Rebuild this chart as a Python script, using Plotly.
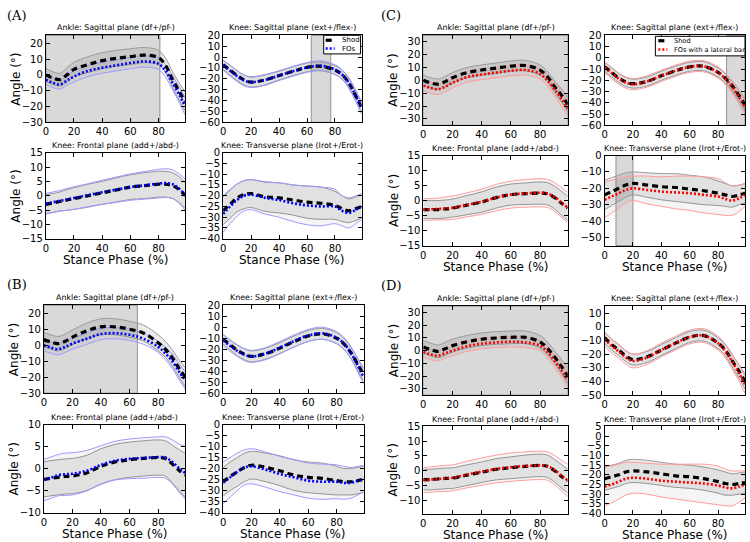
import plotly.graph_objects as go

W, H = 750, 542
X = [0, 5, 10, 15, 20, 30, 40, 50, 60, 70, 80, 85, 90, 95, 99]
XTICKS = [0, 20, 40, 60, 80]

TITLES = ["Ankle: Sagittal plane (df+/pf-)", "Knee: Sagittal plane (ext+/flex-)",
          "Knee: Frontal plane (add+/abd-)", "Knee: Transverse plane (Irot+/Erot-)"]
PANELS = ["A", "B", "C", "D"]
SHOD_NAME = "Shod"
FO_NAMES = {"A": "FOs", "C": "FOs with a lateral bar"}

# ---------------- Panel A ----------------
A_ank_shod = [0, -2, -3, 0, 3.5, 6.5, 9, 10.5, 11.5, 12.5, 11, 6, -3, -11, -17]
A_ank_shod_sd = [4, 4, 4, 4.5, 4.5, 5, 5, 5, 5, 4.8, 4.5, 4.5, 5, 5.5, 6]
A_ank_fo = [-3, -5, -6, -3.5, -1, 2.5, 4.5, 6, 7.5, 8.5, 7, 2.5, -5, -13, -20]
A_ank_fo_sd = [3, 3, 3, 3, 3.5, 3.5, 3.5, 3.5, 3.6, 3.6, 3.6, 4, 4.5, 5, 5.5]

A_ksag_shod = [-7, -12, -17, -21, -23, -21, -17, -13, -9.5, -8.5, -12, -16, -24, -36, -46]
A_ksag_shod_sd = [4, 4.5, 4.5, 4.5, 4.5, 4.5, 4, 4, 4, 4, 4, 4, 4, 4.5, 5]
A_ksag_fo = [-7.5, -12.5, -17.5, -21.5, -23, -21, -17, -13, -9.5, -8, -11.5, -16, -24, -36, -47]
A_ksag_fo_sd = [4.5, 5, 5, 5, 5, 5, 4.5, 4.5, 4.5, 4.5, 4.5, 4.5, 5, 5, 5.5]

A_kfr_shod = [-3, -2.5, -2, -1.5, -1, 0, 1, 2, 3, 3.5, 4, 4, 3.5, 2, 0]
A_kfr_shod_sd = [3.3, 3.3, 3.3, 3.6, 3.8, 4, 4, 4.2, 4.3, 4.5, 4.5, 4.5, 4.5, 4.5, 4.5]
A_kfr_fo = [-2.8, -2.3, -1.8, -1.3, -0.8, 0.2, 1.2, 2.1, 3, 3.6, 4.2, 4.4, 4, 2.3, 0.3]
A_kfr_fo_sd = [3.6, 3.6, 3.6, 3.8, 3.9, 4, 4.2, 4.4, 4.6, 4.8, 5, 5, 5, 5.2, 5.5]

A_ktr_shod = [-27, -24, -21, -19.5, -19, -20.5, -21, -22, -23, -23.5, -24.5, -26, -27, -26, -25]
A_ktr_shod_sd = [6.5, 6.5, 6.5, 6.5, 6.5, 6.8, 7, 7, 7.5, 7.5, 6.5, 6, 5.5, 5.5, 5.5]
A_ktr_fo = [-28.5, -25, -22, -20, -19.5, -21, -22, -23.5, -24.5, -25, -25, -27, -28, -26.5, -25]
A_ktr_fo_sd = [8.5, 8, 7.5, 7, 7, 7.5, 8, 8.5, 9, 9, 8, 7, 7, 6.5, 6]

# ---------------- Panel B ----------------
B_ank_shod = [3.5, 2, 1, 2.5, 5, 9, 11.5, 11.5, 10, 7.5, 1.5, -2.5, -8, -15, -20]
B_ank_shod_sd = [4.5, 4.5, 4.5, 4.5, 4.5, 4.8, 5, 5, 5, 5, 5, 5, 5, 5.5, 6]
B_ank_fo = [0, -1.5, -2.5, -1, 1, 4, 7, 7.5, 6.5, 4, -1, -5, -10, -17, -22]
B_ank_fo_sd = [3.5, 3.5, 3.5, 3.5, 3.5, 3.5, 3.5, 3.5, 3.5, 3.5, 3.5, 4, 4.5, 5, 5.5]

B_ksag_shod = [-11, -16, -21, -24.5, -26.5, -24, -19, -13, -8, -6, -10, -15, -23, -34, -43]
B_ksag_shod_sd = [4.5, 4.5, 5, 5, 5, 5, 5, 5, 5, 5, 5, 5, 5, 5.5, 6]
B_ksag_fo = [-12, -17, -21.5, -25, -26.5, -24, -18.5, -12.5, -7.5, -5.5, -9.5, -14.5, -23, -35, -45]
B_ksag_fo_sd = [5, 5, 5, 5.5, 5.5, 5.5, 5.5, 5.5, 5.5, 5.5, 5.5, 5.5, 5.5, 6, 6.5]

B_kfr_shod = [-2.5, -2.2, -2, -1.8, -1.7, -1, 0.5, 1.5, 2, 2.3, 2.5, 2.3, 1, -0.5, -1.5]
B_kfr_shod_sd = [4, 4, 4, 4, 4, 4, 4, 4, 4, 4, 4, 4, 4.3, 4.7, 5]
B_kfr_fo = [-2.6, -2.1, -1.5, -1.3, -1.2, -0.5, 0.8, 1.8, 2.2, 2.4, 2.6, 2.5, 1.5, 0, -1]
B_kfr_fo_sd = [4.7, 4.7, 4.7, 4.8, 4.8, 4.6, 4.4, 4.4, 4.5, 4.6, 4.6, 4.7, 5, 5.5, 6]

B_ktr_shod = [-26, -23.5, -21.5, -19.5, -18.5, -19.5, -21, -23, -24, -24.5, -25.5, -26, -26, -25.5, -25]
B_ktr_shod_sd = [6.5, 6.5, 6.5, 6.5, 6.3, 6.5, 6.8, 7, 7, 7, 6.5, 6, 6, 6, 6]
B_ktr_fo = [-26.5, -24, -21.5, -19.5, -19, -20.5, -22.5, -24, -25.5, -26, -26, -26.5, -26.5, -25.5, -24.5]
B_ktr_fo_sd = [9.5, 9, 8.5, 8, 8, 8, 8, 8, 8, 8, 7.7, 7.5, 7, 6.5, 6]

# ---------------- Panel C ----------------
C_ank_shod = [0, -2, -3, -1, 2, 6, 8, 9.5, 11, 11.5, 8, 3, -5, -12, -19]
C_ank_shod_sd = [4, 4, 4, 4, 4, 4, 4, 4, 4, 4, 4, 4, 4.5, 5, 5.5]
C_ank_fo = [-4, -6, -7, -5, -2, 2.5, 4.5, 6, 7.5, 8, 5, 0, -7, -15, -22]
C_ank_fo_sd = [4, 4, 4, 4, 4, 4, 4, 4, 4, 4, 4, 4.5, 5, 5.5, 6]

C_ksag_shod = [-8, -13, -18, -21.5, -23, -21, -16, -11.5, -8, -7.5, -13, -18, -25, -34, -42]
C_ksag_shod_sd = [4, 4, 4, 4, 4, 4, 4, 4, 4, 4, 4, 4, 4.5, 5, 5.5]
C_ksag_fo = [-8.5, -13.5, -18.5, -22, -23.5, -21, -16, -11.5, -8, -7.5, -13, -18.5, -26, -35.5, -44]
C_ksag_fo_sd = [5, 5, 5, 5, 5, 5, 5, 5, 5, 5, 5, 5, 5.5, 6, 6.5]

C_kfr_shod = [-3, -3, -3, -2.8, -2.5, -1.5, -0.5, 1, 2, 2.3, 2.5, 2.3, 1, -1, -2.5]
C_kfr_shod_sd = [3, 3, 3, 3, 3, 3.2, 3.4, 3.5, 3.5, 3.6, 3.7, 3.7, 3.8, 4, 4]
C_kfr_fo = [-3, -2.9, -2.8, -2.6, -2.4, -1.4, -0.4, 1, 2, 2.4, 2.6, 2.4, 1.2, -0.8, -2.3]
C_kfr_fo_sd = [3.6, 3.6, 3.6, 3.8, 3.9, 4, 4.2, 4.4, 4.5, 4.6, 4.7, 4.7, 4.8, 5, 5]

C_ktr_shod = [-24, -22, -20, -18, -17, -18, -19, -19.5, -20.5, -21.5, -23, -24, -25, -24, -23]
C_ktr_shod_sd = [9, 8.5, 8, 7.5, 7, 7.5, 8, 8.5, 8.5, 8.5, 7.5, 7, 6.5, 6, 6]
C_ktr_fo = [-27, -25, -23, -21, -20, -21, -22, -22.5, -23, -24, -25, -26.5, -27.5, -26, -24]
C_ktr_fo_sd = [11, 10, 9, 8, 7.5, 8.5, 9, 10, 10.5, 11, 11, 10, 9, 8, 7]

# ---------------- Panel D ----------------
D_ank_shod = [3, 1, -0.5, 1.5, 4, 7, 9, 10, 10.5, 10.5, 7, 2, -5, -13, -20]
D_ank_shod_sd = [5, 5, 5, 5, 5, 5, 5, 5, 5, 5, 5, 5, 5, 5.5, 6]
D_ank_fo = [-1, -3, -4, -2, 0, 3.5, 5.5, 6.5, 7, 6.5, 4, -1, -8, -16, -23]
D_ank_fo_sd = [4, 4, 4, 4, 4, 4, 4, 4, 4, 4, 4, 4.5, 5, 5.5, 6]

D_ksag_shod = [-8, -13, -17, -21.5, -24, -22, -17, -12, -7.5, -6.5, -12, -17, -25, -33, -40]
D_ksag_shod_sd = [4, 4, 4, 4, 4, 4, 4, 4, 4, 4, 4, 4, 4.5, 5, 5.5]
D_ksag_fo = [-9, -14, -18, -22.5, -25, -22.5, -17, -12, -7.5, -6.5, -12, -17.5, -25.5, -34.5, -42]
D_ksag_fo_sd = [5, 5, 5, 5, 5, 5, 5, 5, 5, 5, 5, 5, 5.5, 6, 6.5]

D_kfr_shod = [-3, -3, -2.8, -2.6, -2.5, -1.5, -0.5, 0.5, 1, 1.5, 1.8, 1.5, 0, -2, -3.5]
D_kfr_shod_sd = [3.5, 3.5, 3.5, 3.5, 3.5, 3.5, 3.5, 3.6, 3.7, 3.8, 3.8, 3.8, 3.8, 4, 4]
D_kfr_fo = [-3.2, -3, -2.8, -2.6, -2.4, -1.3, -0.3, 0.6, 1.2, 1.6, 1.8, 1.6, 0.2, -1.8, -3.3]
D_kfr_fo_sd = [4.3, 4.3, 4.3, 4.4, 4.4, 4.5, 4.6, 4.7, 4.8, 4.8, 4.8, 4.8, 5, 5.2, 5.5]

D_ktr_shod = [-22, -21, -20, -18.5, -18, -18.5, -19.5, -20.5, -21, -22, -23.5, -24.5, -25, -24.5, -24]
D_ktr_shod_sd = [6, 6, 6, 6, 6, 6, 6, 6, 6, 6, 6, 6, 5.5, 5.5, 5.5]
D_ktr_fo = [-26, -25, -23.5, -22, -21.5, -22, -23, -23.5, -24, -24.5, -25.5, -26.5, -27, -26, -25]
D_ktr_fo_sd = [10, 9.5, 9, 8.5, 8, 8, 8.5, 9, 9.5, 10, 10, 9.5, 9, 8, 7]

DATA = {
    "A": [(A_ank_shod, A_ank_shod_sd, A_ank_fo, A_ank_fo_sd), (A_ksag_shod, A_ksag_shod_sd, A_ksag_fo, A_ksag_fo_sd),
          (A_kfr_shod, A_kfr_shod_sd, A_kfr_fo, A_kfr_fo_sd), (A_ktr_shod, A_ktr_shod_sd, A_ktr_fo, A_ktr_fo_sd)],
    "B": [(B_ank_shod, B_ank_shod_sd, B_ank_fo, B_ank_fo_sd), (B_ksag_shod, B_ksag_shod_sd, B_ksag_fo, B_ksag_fo_sd),
          (B_kfr_shod, B_kfr_shod_sd, B_kfr_fo, B_kfr_fo_sd), (B_ktr_shod, B_ktr_shod_sd, B_ktr_fo, B_ktr_fo_sd)],
    "C": [(C_ank_shod, C_ank_shod_sd, C_ank_fo, C_ank_fo_sd), (C_ksag_shod, C_ksag_shod_sd, C_ksag_fo, C_ksag_fo_sd),
          (C_kfr_shod, C_kfr_shod_sd, C_kfr_fo, C_kfr_fo_sd), (C_ktr_shod, C_ktr_shod_sd, C_ktr_fo, C_ktr_fo_sd)],
    "D": [(D_ank_shod, D_ank_shod_sd, D_ank_fo, D_ank_fo_sd), (D_ksag_shod, D_ksag_shod_sd, D_ksag_fo, D_ksag_fo_sd),
          (D_kfr_shod, D_kfr_shod_sd, D_kfr_fo, D_kfr_fo_sd), (D_ktr_shod, D_ktr_shod_sd, D_ktr_fo, D_ktr_fo_sd)],
}

# y-axis ranges and tick steps per subplot
Y_RANGES = {
    "A": [(-30, 25), (-60, 20), (-15, 15), (-40, 0)],
    "B": [(-30, 25), (-60, 20), (-10, 10), (-40, 0)],
    "C": [(-35, 35), (-60, 20), (-15, 15), (-55, 0)],
    "D": [(-35, 35), (-50, 15), (-14.5, 15), (-40, 5)],
}
Y_DTICK = {"A": [10, 10, 5, 5], "B": [10, 10, 5, 5], "C": [10, 10, 5, 10], "D": [10, 10, 5, 5]}

# significant-difference intervals (stance %)
SIG = {
    ("A", 0): (0, 81), ("A", 1): (63, 77),
    ("B", 0): (0, 65.5),
    ("C", 0): (0, 99), ("C", 1): (86, 99), ("C", 3): (8, 20),
    ("D", 0): (0, 99),
}

# plot boxes in pixels: (left, right, top, bottom)
BOX = {
    "A": [(43, 183, 30, 119), (221, 360, 30, 119), (43, 183, 150, 238), (221, 360, 150, 238)],
    "B": [(41, 183, 306, 396), (221, 362, 306, 396), (41, 183, 428, 518), (221, 362, 428, 518)],
    "C": [(422, 567, 30, 122), (604, 745, 30, 122), (422, 567, 153, 245), (604, 745, 153, 245)],
    "D": [(422, 567, 307, 398), (604, 745, 307, 398), (422, 567, 430, 519), (604, 745, 430, 519)],
}

FO_COLOR = {"A": "#0000ff", "B": "#0000ff", "C": "#ff0000", "D": "#ff0000"}
FO_SD_COLOR = {"A": "#9a9aff", "B": "#9a9aff", "C": "#ff9a9a", "D": "#ff9a9a"}
SHOD_DASH = "6px,4px"
FO_DASH = "2px,2px"

fig = go.Figure()
layout = dict(width=W, height=H, margin=dict(l=0, r=0, t=0, b=0),
              paper_bgcolor="white", plot_bgcolor="white", showlegend=False,
              font=dict(family="DejaVu Sans", color="black"))
shapes, annotations = [], []

axis_common = dict(showgrid=False, zeroline=False, showline=True, linecolor="black", linewidth=1,
                   mirror="ticks", ticks="inside", ticklen=4, tickcolor="black",
                   tickfont=dict(size=10, family="DejaVu Sans", color="black"))

idx = 0
for p in PANELS:
    for k in range(4):
        idx += 1
        xa = "xaxis" if idx == 1 else f"xaxis{idx}"
        ya = "yaxis" if idx == 1 else f"yaxis{idx}"
        xr = "x" if idx == 1 else f"x{idx}"
        yr = "y" if idx == 1 else f"y{idx}"
        l, r, t, b = BOX[p][k]
        layout[xa] = dict(axis_common, domain=[l / W, r / W], anchor=yr, range=[0, 99],
                          tickvals=XTICKS)
        layout[ya] = dict(axis_common, domain=[1 - b / H, 1 - t / H], anchor=xr,
                          range=list(Y_RANGES[p][k]), dtick=Y_DTICK[p][k], tick0=0)
        shod, shod_sd, fo, fo_sd = DATA[p][k]
        s_lo = [m - s for m, s in zip(shod, shod_sd)]
        s_hi = [m + s for m, s in zip(shod, shod_sd)]
        f_lo = [m - s for m, s in zip(fo, fo_sd)]
        f_hi = [m + s for m, s in zip(fo, fo_sd)]
        common = dict(x=X, xaxis=xr, yaxis=yr, mode="lines", showlegend=False, hoverinfo="skip")
        fig.add_trace(go.Scatter(y=s_lo, line=dict(color="#9a9a9a", width=1, shape="spline"), **common))
        fig.add_trace(go.Scatter(y=s_hi, fill="tonexty", fillcolor="rgba(0,0,0,0.08)",
                                 line=dict(color="#9a9a9a", width=1, shape="spline"), **common))
        fig.add_trace(go.Scatter(y=f_lo, line=dict(color=FO_SD_COLOR[p], width=1, shape="spline"), **common))
        fig.add_trace(go.Scatter(y=f_hi, fill="tonexty", fillcolor="rgba(0,0,0,0.04)",
                                 line=dict(color=FO_SD_COLOR[p], width=1, shape="spline"), **common))
        fig.add_trace(go.Scatter(y=shod, name=SHOD_NAME,
                                 line=dict(color="black", width=3.2, dash=SHOD_DASH, shape="spline"), **common))
        fig.add_trace(go.Scatter(y=fo, name=FO_NAMES.get(p, "FOs"),
                                 line=dict(color=FO_COLOR[p], width=2.6, dash=FO_DASH, shape="spline"), **common))
        if (p, k) in SIG:
            x0, x1 = SIG[(p, k)]
            shapes.append(dict(type="rect", xref=xr, yref=f"{yr} domain", x0=x0, x1=x1, y0=0, y1=1,
                               fillcolor="rgba(120,120,120,0.28)", line=dict(color="rgba(90,90,90,0.6)", width=1),
                               layer="below"))
        # subplot title
        annotations.append(dict(text=TITLES[k], xref="paper", yref="paper", x=(l + r) / 2 / W,
                                y=1 - (t - 1) / H, xanchor="center", yanchor="bottom", showarrow=False,
                                font=dict(size=7.9, family="DejaVu Sans", color="black")))
        if k in (0, 2):
            annotations.append(dict(text="Angle (°)", xref="paper", yref="paper", x=(l - 30) / W,
                                    y=1 - (t + b) / 2 / H, xanchor="center", yanchor="middle",
                                    textangle=-90, showarrow=False,
                                    font=dict(size=12, family="DejaVu Sans", color="black")))
        if k in (2, 3):
            annotations.append(dict(text="Stance Phase (%)", xref="paper", yref="paper", x=(l + r) / 2 / W,
                                    y=1 - (b + 22) / H, xanchor="center", yanchor="middle", showarrow=False,
                                    font=dict(size=12, family="DejaVu Sans", color="black")))

PANEL_POS = {"A": (2, 0), "B": (2, 275), "C": (378, 0), "D": (378, 276)}
for p, (px, py) in PANEL_POS.items():
    annotations.append(dict(text=f"({p})", xref="paper", yref="paper", x=px / W, y=1 - py / H,
                            xanchor="left", yanchor="top", showarrow=False,
                            font=dict(size=13, family="DejaVu Serif", color="black")))

# compact matplotlib-style legends (box, sample lines, labels) in pixels
LEGENDS = {
    "A": dict(box=(322, 359, 30, 49), sample=(324, 333), text_x=338, rows=(35, 43.5), size=7),
    "C": dict(box=(655, 745, 31, 51), sample=(658, 667), text_x=672, rows=(35.5, 44.5), size=6.6),
}
for p, lg in LEGENDS.items():
    bx0, bx1, by0, by1 = lg["box"]
    shapes.append(dict(type="rect", xref="paper", yref="paper", x0=bx0 / W, x1=bx1 / W,
                       y0=1 - by1 / H, y1=1 - by0 / H, fillcolor="white",
                       line=dict(color="black", width=1), layer="above"))
    sx0, sx1 = lg["sample"]
    entries = [(SHOD_NAME, "black", 3.2, SHOD_DASH), (FO_NAMES[p], FO_COLOR[p], 2.6, FO_DASH)]
    for (name, col, wd, dsh), ry in zip(entries, lg["rows"]):
        shapes.append(dict(type="line", xref="paper", yref="paper", x0=sx0 / W, x1=sx1 / W,
                           y0=1 - ry / H, y1=1 - ry / H, line=dict(color=col, width=wd, dash=dsh),
                           layer="above"))
        annotations.append(dict(text=name, xref="paper", yref="paper", x=lg["text_x"] / W, y=1 - ry / H,
                                xanchor="left", yanchor="middle", showarrow=False,
                                font=dict(size=lg["size"], family="DejaVu Sans", color="black")))

layout["shapes"] = shapes
layout["annotations"] = annotations
fig.update_layout(**layout)
fig.write_html("out.html", config={"displayModeBar": False},
               post_script="document.body.style.margin='0';document.body.style.overflow='hidden';")
